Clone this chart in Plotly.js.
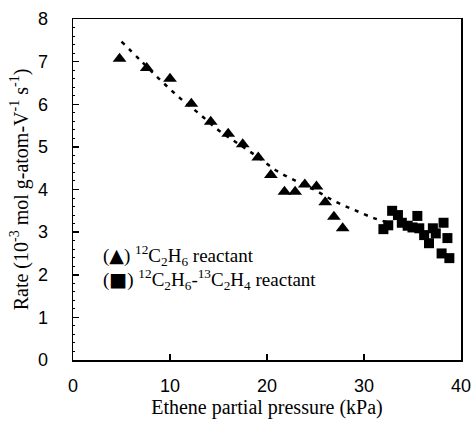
<!DOCTYPE html>
<html><head><meta charset="utf-8">
<script src="https://cdn.plot.ly/plotly-3.0.1.min.js"></script>
<style>body{margin:0;background:#fff}</style>
</head><body>
<div id="chart" style="width:473px;height:422px"></div>
<script>
// 12C2H6 reactant (triangles)
const triX = [4.8, 7.6, 10.0, 12.2, 14.2, 16.0, 17.5, 19.1, 20.4, 21.8, 22.9, 23.9, 25.1, 26.0, 26.9, 27.8];
const triY = [7.07, 6.85, 6.60, 6.01, 5.59, 5.31, 5.06, 4.75, 4.34, 3.95, 3.95, 4.12, 4.07, 3.70, 3.36, 3.09];
// 12C2H6-13C2H4 reactant (squares)
const sqX = [32.0, 32.5, 32.9, 33.5, 33.9, 34.5, 35.0, 35.5, 35.7, 36.2, 36.7, 37.1, 37.4, 38.2, 38.6, 38.0, 38.8];
const sqY = [3.07, 3.16, 3.50, 3.40, 3.22, 3.15, 3.11, 3.38, 3.09, 2.93, 2.74, 3.09, 2.97, 3.22, 2.86, 2.50, 2.39];
// dashed trend curve
const fitX = [5, 7, 9, 11, 13, 15, 17, 19, 21, 23, 25, 27, 29, 31, 32.3];
const fitY = [7.47, 7.02, 6.57, 6.15, 5.78, 5.39, 5.08, 4.77, 4.44, 4.20, 3.98, 3.72, 3.52, 3.33, 3.24];
const xTicks = [0, 10, 20, 30, 40];
const yTicks = [0, 1, 2, 3, 4, 5, 6, 7, 8];

const serif = 'Liberation Serif, Times New Roman, serif';
const sans = 'Liberation Sans, Arial, sans-serif';

const traces = [
  {x: fitX, y: fitY, mode: 'lines', line: {color: '#000', width: 2.5, dash: '4px,6px', shape: 'spline'}, showlegend: false},
  {x: triX, y: triY, mode: 'markers', marker: {symbol: 'triangle-up', size: 12, color: '#000'}, showlegend: false},
  {x: sqX, y: sqY, mode: 'markers', marker: {symbol: 'square', size: 10, color: '#000'}, showlegend: false}
];

const layout = {
  width: 473, height: 422,
  margin: {l: 73, r: 12, t: 19, b: 62},
  paper_bgcolor: '#fff', plot_bgcolor: '#fff',
  showlegend: false,
  xaxis: {
    range: [0, 40], tickvals: xTicks, ticks: 'inside', ticklen: 6, tickwidth: 1.5, tickcolor: '#000',
    showline: true, linecolor: '#000', linewidth: 1.5, mirror: true, showgrid: false, zeroline: false,
    tickfont: {family: sans, size: 18, color: '#000'}, ticklabelstandoff: 9,
    title: {text: 'Ethene partial pressure (kPa)', font: {family: serif, size: 20, color: '#000'}, standoff: 2}
  },
  yaxis: {
    range: [0, 8], tickvals: yTicks, ticks: 'inside', ticklen: 6, tickwidth: 1.5, tickcolor: '#000',
    minor: {dtick: 0.2, ticks: 'inside', ticklen: 2, tickwidth: 1, tickcolor: '#000', showgrid: false},
    showline: true, linecolor: '#000', linewidth: 1.5, mirror: true, showgrid: false, zeroline: false,
    tickfont: {family: sans, size: 18, color: '#000'}, ticklabelstandoff: 20,
    title: {text: 'Rate (10<sup>-3</sup> mol g-atom-V<sup>-1</sup> s<sup>-1</sup>)', font: {family: serif, size: 20, color: '#000'}, standoff: 4}
  },
  annotations: [
    {xref: 'paper', yref: 'paper', x: 0.072, y: 0.306, xanchor: 'left', yanchor: 'middle', showarrow: false, align: 'left',
     text: '(<span style="font-family:DejaVu Sans">▲</span>) <sup>12</sup>C<sub>2</sub>H<sub>6</sub> reactant',
     font: {family: serif, size: 19, color: '#000'}},
    {xref: 'paper', yref: 'paper', x: 0.072, y: 0.236, xanchor: 'left', yanchor: 'middle', showarrow: false, align: 'left',
     text: '(<span style="font-family:DejaVu Sans">■</span>) <sup>12</sup>C<sub>2</sub>H<sub>6</sub>-<sup>13</sup>C<sub>2</sub>H<sub>4</sub> reactant',
     font: {family: serif, size: 19, color: '#000'}}
  ]
};
Plotly.newPlot('chart', traces, layout, {displayModeBar: false, staticPlot: true});
</script>
</body></html>
